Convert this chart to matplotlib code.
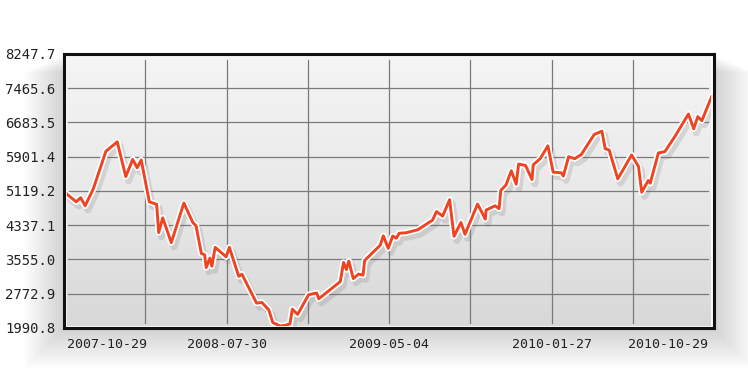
import numpy as np
import matplotlib
matplotlib.use('Agg')
import matplotlib.pyplot as plt
import matplotlib.patheffects as pe
from matplotlib.colors import LinearSegmentedColormap
from matplotlib.patches import FancyBboxPatch

# Valores (x = índice do período, y = valor do índice)
x_idx = [0, 3.0, 4.1, 5.2, 7.2, 10.3, 13.1, 15.2, 16.9, 18.0, 19.0, 21.0, 22.8, 23.3,
         24.3, 26.4, 29.5, 31.7, 32.5, 33.8, 34.6, 35.0, 35.9, 36.4, 37.2, 39.9, 40.7,
         43.0, 43.8, 47.4, 48.7, 50.4, 51.4, 53.2, 54.4, 55.6, 56.2, 57.5, 60.2, 62.2,
         62.7, 68.0, 68.8, 69.5, 70.1, 71.2, 72.5, 73.6, 74.0, 77.8, 78.6, 79.8, 80.9,
         81.8, 82.5, 84.2, 87.1, 90.7, 91.7, 93.2, 94.9, 96.0, 97.7, 98.7, 101.8, 103.7,
         103.9, 106.1, 107.1, 107.5, 108.8, 110.1, 111.3, 111.9, 113.6, 115.2, 115.5,
         117.2, 119.1, 120.4, 122.4, 122.9, 124.2, 125.7, 127.3, 130.5, 132.4, 133.2,
         134.2, 136.3, 137.8, 139.7, 141.4, 142.2, 143.8, 144.3, 146.3, 147.9, 150.4,
         153.7, 155.0, 156.0, 157.0, 159.5]
valores = [5100, 4870, 4965, 4780, 5165, 6023, 6240, 5447, 5838, 5648, 5825, 4870, 4813, 4169,
           4504, 3939, 4843, 4399, 4321, 3693, 3663, 3371, 3585, 3401, 3831, 3616, 3831,
           3171, 3217, 2559, 2573, 2405, 2113, 2037, 2050, 2083, 2421, 2301, 2750, 2789,
           2658, 3049, 3486, 3325, 3520, 3118, 3221, 3198, 3532, 3877, 4095, 3808, 4090,
           4040, 4153, 4164, 4234, 4452, 4648, 4544, 4919, 4084, 4399, 4130, 4820, 4475,
           4682, 4780, 4716, 5130, 5257, 5579, 5273, 5733, 5701, 5379, 5717,
           5855, 6147, 5547, 5533, 5457, 5901, 5855, 5947, 6407, 6483, 6085,
           6050, 5395, 5632, 5940, 5678, 5089, 5357, 5296, 5986, 6016, 6368,
           6874, 6538, 6814, 6722, 7292]

y_ticks = [1990.8, 2772.9, 3555.0, 4337.1, 5119.2, 5901.4, 6683.5, 7465.6, 8247.7]
y_labels = ['1990.8', '2772.9', '3555.0', '4337.1', '5119.2', '5901.4', '6683.5', '7465.6', '8247.7']
x_tick_pos = [10.6, 40.2, 80.0, 120.0, 148.7]
x_labels = ['2007-10-29', '2008-07-30', '2009-05-04', '2010-01-27', '2010-10-29']
x_grid = [20, 40, 60, 80, 100, 120, 140]

fig = plt.figure(figsize=(7.48, 3.74), dpi=100)
ax = fig.add_axes([0.0856, 0.123, 0.869, 0.733])

# Sombra suave ao redor da área do gráfico
for i in range(16):
    dx = 0.0035 * i
    dy = 0.0065 * i
    sombra = FancyBboxPatch((0.0856 - dx, 0.123 - dy * 1.1), 0.869 + 2 * dx, 0.733 + dy * 0.6,
                            boxstyle='square,pad=0', transform=fig.transFigure,
                            facecolor='black', edgecolor='none', alpha=0.013, zorder=-5)
    fig.patches.append(sombra)

ymin, ymax = y_ticks[0], y_ticks[-1]
cmap = LinearSegmentedColormap.from_list('fundo', ['#f5f5f5', '#e9e9e9', '#d8d8d8'])
ax.imshow(np.linspace(0, 1, 256).reshape(-1, 1), extent=[0, 160, ymin, ymax],
          aspect='auto', cmap=cmap, zorder=0)

# Grade
for gx in x_grid:
    ax.axvline(gx, ymin=0.018, ymax=0.978, color='#7a7a7a', lw=0.9, zorder=1)
for gy in y_ticks[1:-1]:
    ax.axhline(gy, xmin=0.006, xmax=0.99, color='#7a7a7a', lw=0.9, zorder=1)

# Linha com contorno branco e sombra
ax.plot(x_idx, valores, color='#ee4422', lw=2.1, zorder=3,
        solid_joinstyle='round', solid_capstyle='round',
        path_effects=[pe.SimpleLineShadow(offset=(2, -3), shadow_color='#666666', alpha=0.18,
                                          linewidth=5, joinstyle='round'),
                      pe.Stroke(linewidth=4.6, foreground='white', joinstyle='round'),
                      pe.Normal()])

ax.set_xlim(0, 160)
ax.set_ylim(ymin, ymax)
ax.set_yticks(y_ticks)
ax.set_yticklabels(y_labels, family='DejaVu Sans Mono', fontsize=10, color='#222222')
ax.set_xticks(x_tick_pos)
ax.set_xticklabels(x_labels, family='DejaVu Sans Mono', fontsize=9.5, color='#222222')
ax.tick_params(length=0, pad=7)
ax.tick_params(axis='y', pad=6)

for s in ax.spines.values():
    s.set_linewidth(2.2)
    s.set_color('#111111')
    s.set_zorder(5)

# Borda interna branca
ax.add_patch(plt.Rectangle((0.003, 0.005), 0.994, 0.99, transform=ax.transAxes,
                           fill=False, edgecolor='white', lw=1.2, zorder=4))

fig.savefig('out.png', dpi=100)
